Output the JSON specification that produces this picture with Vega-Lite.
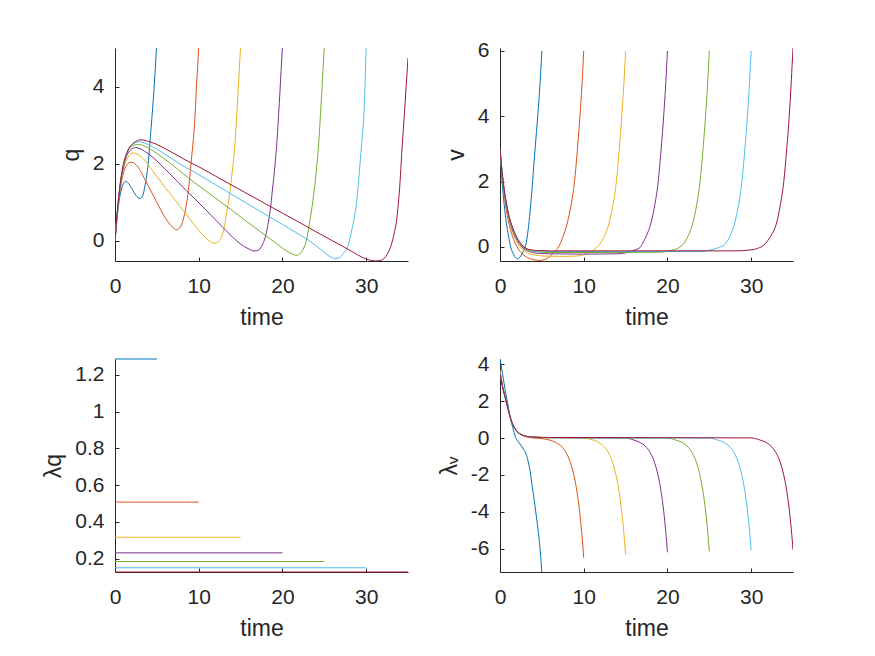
{
  "$schema": "https://vega.github.io/schema/vega-lite/v6.json",
  "background": "white",
  "padding": {"left": 42, "top": 39, "right": 5, "bottom": 5},
  "columns": 2,
  "spacing": {"row": 98, "column": 92},
  "bounds": "flush",
  "config": {
    "view": {"stroke": null},
    "font": "Liberation Sans",
    "axis": {
      "domainColor": "#262626", "tickColor": "#262626", "labelColor": "#262626", "titleColor": "#262626",
      "labelFont": "Liberation Sans", "titleFont": "Liberation Sans",
      "labelFontSize": 21, "titleFontSize": 23, "titleFontWeight": "normal",
      "grid": false, "tickSize": -4, "domainWidth": 1, "tickWidth": 1, "labelFlush": false
    },
    "axisX": {"labelPadding": 18, "titlePadding": 10},
    "axisY": {"labelPadding": 15, "titlePadding": 9},
    "line": {"strokeWidth": 1}
  },
  "datasets": {
    "q": [
      {"r":1,"t":0,"y":0},{"r":1,"t":0.25,"y":0.6},{"r":1,"t":0.5,"y":1.05},{"r":1,"t":0.75,"y":1.32},{"r":1,"t":1.0,"y":1.48},{"r":1,"t":1.25,"y":1.55},{"r":1,"t":1.5,"y":1.52},{"r":1,"t":2.0,"y":1.36},{"r":1,"t":2.5,"y":1.18},{"r":1,"t":3.0,"y":1.1},{"r":1,"t":3.3,"y":1.17},{"r":1,"t":3.6,"y":1.45},{"r":1,"t":3.96,"y":2.0},{"r":1,"t":4.3,"y":2.9},{"r":1,"t":4.5,"y":3.45},{"r":1,"t":4.68,"y":4.0},{"r":1,"t":4.85,"y":4.6},{"r":1,"t":5.0,"y":5.2},
      {"r":2,"t":0,"y":0},{"r":2,"t":0.25,"y":0.65},{"r":2,"t":0.5,"y":1.15},{"r":2,"t":0.75,"y":1.5},{"r":2,"t":1.0,"y":1.75},{"r":2,"t":1.4,"y":1.97},{"r":2,"t":1.9,"y":2.04},{"r":2,"t":2.5,"y":1.98},{"r":2,"t":3.0,"y":1.83},{"r":2,"t":3.68,"y":1.55},{"r":2,"t":4.28,"y":1.3},{"r":2,"t":5.0,"y":1.0},{"r":2,"t":5.5,"y":0.79},{"r":2,"t":6.0,"y":0.6},{"r":2,"t":6.68,"y":0.4},{"r":2,"t":7.0,"y":0.33},{"r":2,"t":7.35,"y":0.29},{"r":2,"t":7.8,"y":0.36},{"r":2,"t":8.1,"y":0.52},{"r":2,"t":8.36,"y":0.74},{"r":2,"t":8.68,"y":1.17},{"r":2,"t":8.92,"y":1.61},{"r":2,"t":9.08,"y":2.0},{"r":2,"t":9.28,"y":2.45},{"r":2,"t":9.48,"y":2.95},{"r":2,"t":9.6,"y":3.4},{"r":2,"t":9.72,"y":3.95},{"r":2,"t":9.87,"y":4.5},{"r":2,"t":10,"y":5.05},
      {"r":3,"t":0,"y":0},{"r":3,"t":0.25,"y":0.67},{"r":3,"t":0.5,"y":1.2},{"r":3,"t":0.75,"y":1.58},{"r":3,"t":1.0,"y":1.85},{"r":3,"t":1.5,"y":2.15},{"r":3,"t":2.2,"y":2.28},{"r":3,"t":3.0,"y":2.2},{"r":3,"t":3.5,"y":2.1},{"r":3,"t":4.28,"y":1.88},{"r":3,"t":5.0,"y":1.67},{"r":3,"t":6.0,"y":1.38},{"r":3,"t":7.48,"y":0.98},{"r":3,"t":8.5,"y":0.69},{"r":3,"t":9.48,"y":0.41},{"r":3,"t":10.28,"y":0.21},{"r":3,"t":11.0,"y":0.05},{"r":3,"t":11.5,"y":-0.03},{"r":3,"t":11.9,"y":-0.06},{"r":3,"t":12.4,"y":-0.01},{"r":3,"t":12.75,"y":0.12},{"r":3,"t":13.07,"y":0.37},{"r":3,"t":13.35,"y":0.75},{"r":3,"t":13.67,"y":1.17},{"r":3,"t":13.9,"y":1.6},{"r":3,"t":14.1,"y":1.98},{"r":3,"t":14.25,"y":2.3},{"r":3,"t":14.4,"y":2.75},{"r":3,"t":14.55,"y":3.3},{"r":3,"t":14.7,"y":3.85},{"r":3,"t":14.85,"y":4.45},{"r":3,"t":15,"y":5.05},
      {"r":4,"t":0,"y":0},{"r":4,"t":0.25,"y":0.68},{"r":4,"t":0.5,"y":1.22},{"r":4,"t":0.75,"y":1.63},{"r":4,"t":1.0,"y":1.92},{"r":4,"t":1.5,"y":2.25},{"r":4,"t":2.0,"y":2.38},{"r":4,"t":2.48,"y":2.42},{"r":4,"t":3.0,"y":2.39},{"r":4,"t":3.5,"y":2.33},{"r":4,"t":4.5,"y":2.17},{"r":4,"t":5.5,"y":1.97},{"r":4,"t":6.5,"y":1.75},{"r":4,"t":7.5,"y":1.53},{"r":4,"t":8.5,"y":1.31},{"r":4,"t":9.5,"y":1.1},{"r":4,"t":10.28,"y":0.93},{"r":4,"t":11.5,"y":0.66},{"r":4,"t":13.07,"y":0.31},{"r":4,"t":14.0,"y":0.11},{"r":4,"t":15.0,"y":-0.08},{"r":4,"t":16.0,"y":-0.21},{"r":4,"t":16.67,"y":-0.26},{"r":4,"t":17.2,"y":-0.23},{"r":4,"t":17.6,"y":-0.1},{"r":4,"t":18.07,"y":0.2},{"r":4,"t":18.4,"y":0.6},{"r":4,"t":18.67,"y":1.02},{"r":4,"t":18.8,"y":1.32},{"r":4,"t":18.95,"y":1.6},{"r":4,"t":19.1,"y":1.95},{"r":4,"t":19.25,"y":2.3},{"r":4,"t":19.4,"y":2.75},{"r":4,"t":19.55,"y":3.3},{"r":4,"t":19.7,"y":3.85},{"r":4,"t":19.85,"y":4.45},{"r":4,"t":20,"y":5.05},
      {"r":5,"t":0,"y":0},{"r":5,"t":0.25,"y":0.69},{"r":5,"t":0.5,"y":1.24},{"r":5,"t":0.75,"y":1.66},{"r":5,"t":1.0,"y":1.95},{"r":5,"t":1.5,"y":2.3},{"r":5,"t":2.0,"y":2.45},{"r":5,"t":2.76,"y":2.5},{"r":5,"t":3.5,"y":2.46},{"r":5,"t":4.5,"y":2.34},{"r":5,"t":5.5,"y":2.19},{"r":5,"t":6.5,"y":2.03},{"r":5,"t":7.5,"y":1.86},{"r":5,"t":8.5,"y":1.68},{"r":5,"t":9.5,"y":1.51},{"r":5,"t":10.28,"y":1.39},{"r":5,"t":12,"y":1.11},{"r":5,"t":14,"y":0.79},{"r":5,"t":16,"y":0.46},{"r":5,"t":18,"y":0.14},{"r":5,"t":19.5,"y":-0.1},{"r":5,"t":20.5,"y":-0.26},{"r":5,"t":21.2,"y":-0.34},{"r":5,"t":21.67,"y":-0.37},{"r":5,"t":22.2,"y":-0.31},{"r":5,"t":22.55,"y":-0.18},{"r":5,"t":22.87,"y":0.02},{"r":5,"t":23.2,"y":0.42},{"r":5,"t":23.45,"y":0.75},{"r":5,"t":23.65,"y":1.05},{"r":5,"t":23.8,"y":1.32},{"r":5,"t":23.95,"y":1.6},{"r":5,"t":24.1,"y":1.95},{"r":5,"t":24.25,"y":2.3},{"r":5,"t":24.4,"y":2.75},{"r":5,"t":24.55,"y":3.3},{"r":5,"t":24.7,"y":3.85},{"r":5,"t":24.85,"y":4.45},{"r":5,"t":25,"y":5.05},
      {"r":6,"t":0,"y":0},{"r":6,"t":0.25,"y":0.7},{"r":6,"t":0.5,"y":1.25},{"r":6,"t":0.75,"y":1.67},{"r":6,"t":1.0,"y":1.97},{"r":6,"t":1.5,"y":2.32},{"r":6,"t":2.0,"y":2.48},{"r":6,"t":2.92,"y":2.57},{"r":6,"t":3.5,"y":2.54},{"r":6,"t":4.5,"y":2.44},{"r":6,"t":5.5,"y":2.31},{"r":6,"t":6.5,"y":2.17},{"r":6,"t":7.5,"y":2.03},{"r":6,"t":8.5,"y":1.9},{"r":6,"t":9.5,"y":1.78},{"r":6,"t":10.28,"y":1.68},{"r":6,"t":12,"y":1.46},{"r":6,"t":14,"y":1.2},{"r":6,"t":16,"y":0.94},{"r":6,"t":18.27,"y":0.65},{"r":6,"t":20,"y":0.43},{"r":6,"t":22,"y":0.17},{"r":6,"t":23.07,"y":0.03},{"r":6,"t":24,"y":-0.12},{"r":6,"t":25,"y":-0.3},{"r":6,"t":25.7,"y":-0.41},{"r":6,"t":26.26,"y":-0.46},{"r":6,"t":26.8,"y":-0.43},{"r":6,"t":27.3,"y":-0.32},{"r":6,"t":27.87,"y":-0.1},{"r":6,"t":28.3,"y":0.3},{"r":6,"t":28.6,"y":0.62},{"r":6,"t":28.86,"y":1.0},{"r":6,"t":29.1,"y":1.55},{"r":6,"t":29.38,"y":2.3},{"r":6,"t":29.55,"y":2.75},{"r":6,"t":29.74,"y":3.3},{"r":6,"t":29.87,"y":4.1},{"r":6,"t":30,"y":5.05},
      {"r":7,"t":0,"y":0},{"r":7,"t":0.25,"y":0.7},{"r":7,"t":0.5,"y":1.25},{"r":7,"t":0.75,"y":1.68},{"r":7,"t":1.0,"y":1.98},{"r":7,"t":1.5,"y":2.33},{"r":7,"t":2.0,"y":2.5},{"r":7,"t":2.5,"y":2.58},{"r":7,"t":3.1,"y":2.62},{"r":7,"t":4,"y":2.58},{"r":7,"t":5,"y":2.5},{"r":7,"t":6,"y":2.39},{"r":7,"t":7,"y":2.27},{"r":7,"t":8,"y":2.15},{"r":7,"t":9,"y":2.03},{"r":7,"t":10.28,"y":1.89},{"r":7,"t":12,"y":1.68},{"r":7,"t":14,"y":1.44},{"r":7,"t":16,"y":1.2},{"r":7,"t":18,"y":0.96},{"r":7,"t":20,"y":0.72},{"r":7,"t":22.27,"y":0.45},{"r":7,"t":24,"y":0.24},{"r":7,"t":26,"y":0.0},{"r":7,"t":27.46,"y":-0.17},{"r":7,"t":28.5,"y":-0.3},{"r":7,"t":29.5,"y":-0.42},{"r":7,"t":30.3,"y":-0.49},{"r":7,"t":31.06,"y":-0.52},{"r":7,"t":31.8,"y":-0.5},{"r":7,"t":32.5,"y":-0.35},{"r":7,"t":33.0,"y":-0.1},{"r":7,"t":33.35,"y":0.2},{"r":7,"t":33.66,"y":0.57},{"r":7,"t":33.9,"y":1.1},{"r":7,"t":34.1,"y":1.7},{"r":7,"t":34.26,"y":2.3},{"r":7,"t":34.4,"y":2.75},{"r":7,"t":34.53,"y":3.17},{"r":7,"t":34.66,"y":3.6},{"r":7,"t":34.78,"y":4.0},{"r":7,"t":34.9,"y":4.4},{"r":7,"t":35,"y":4.74}
    ],
    "v": [
      {"r":1,"t":0,"y":3.0},{"r":1,"t":0.25,"y":2.0},{"r":1,"t":0.5,"y":1.3},{"r":1,"t":0.75,"y":0.75},{"r":1,"t":1.0,"y":0.35},{"r":1,"t":1.28,"y":0.0},{"r":1,"t":1.6,"y":-0.22},{"r":1,"t":2.07,"y":-0.36},{"r":1,"t":2.5,"y":-0.27},{"r":1,"t":2.8,"y":-0.12},{"r":1,"t":3.07,"y":0.05},{"r":1,"t":3.35,"y":0.5},{"r":1,"t":3.6,"y":1.1},{"r":1,"t":3.85,"y":1.85},{"r":1,"t":4.1,"y":2.7},{"r":1,"t":4.35,"y":3.5},{"r":1,"t":4.55,"y":4.15},{"r":1,"t":4.78,"y":5.0},{"r":1,"t":5.0,"y":6.0},
      {"r":2,"t":0,"y":3.0},{"r":2,"t":0.25,"y":2.2},{"r":2,"t":0.5,"y":1.6},{"r":2,"t":0.75,"y":1.15},{"r":2,"t":1.0,"y":0.8},{"r":2,"t":1.5,"y":0.32},{"r":2,"t":2.0,"y":0.02},{"r":2,"t":2.5,"y":-0.17},{"r":2,"t":3.0,"y":-0.28},{"r":2,"t":3.5,"y":-0.35},{"r":2,"t":4.0,"y":-0.39},{"r":2,"t":4.8,"y":-0.41},{"r":2,"t":5.5,"y":-0.37},{"r":2,"t":6.0,"y":-0.28},{"r":2,"t":6.5,"y":-0.15},{"r":2,"t":7.0,"y":0.0},{"r":2,"t":7.5,"y":0.3},{"r":2,"t":8.0,"y":0.7},{"r":2,"t":8.5,"y":1.3},{"r":2,"t":8.9,"y":2.0},{"r":2,"t":9.25,"y":3.0},{"r":2,"t":9.55,"y":4.0},{"r":2,"t":9.8,"y":5.0},{"r":2,"t":10,"y":6.0},
      {"r":3,"t":0,"y":3.0},{"r":3,"t":0.25,"y":2.25},{"r":3,"t":0.5,"y":1.68},{"r":3,"t":0.75,"y":1.25},{"r":3,"t":1.0,"y":0.92},{"r":3,"t":1.5,"y":0.45},{"r":3,"t":2.0,"y":0.16},{"r":3,"t":2.5,"y":-0.03},{"r":3,"t":3.0,"y":-0.14},{"r":3,"t":3.5,"y":-0.2},{"r":3,"t":4.5,"y":-0.26},{"r":3,"t":5.5,"y":-0.28},{"r":3,"t":7.5,"y":-0.29},{"r":3,"t":9.0,"y":-0.28},{"r":3,"t":10.0,"y":-0.24},{"r":3,"t":10.8,"y":-0.15},{"r":3,"t":11.6,"y":0.0},{"r":3,"t":12.0,"y":0.12},{"r":3,"t":12.5,"y":0.35},{"r":3,"t":13.0,"y":0.7},{"r":3,"t":13.5,"y":1.3},{"r":3,"t":13.9,"y":2.0},{"r":3,"t":14.25,"y":3.0},{"r":3,"t":14.55,"y":4.0},{"r":3,"t":14.8,"y":5.0},{"r":3,"t":15,"y":6.0},
      {"r":4,"t":0,"y":3.0},{"r":4,"t":0.25,"y":2.27},{"r":4,"t":0.5,"y":1.72},{"r":4,"t":0.75,"y":1.3},{"r":4,"t":1.0,"y":0.97},{"r":4,"t":1.5,"y":0.52},{"r":4,"t":2.0,"y":0.22},{"r":4,"t":2.5,"y":0.03},{"r":4,"t":3.0,"y":-0.08},{"r":4,"t":3.5,"y":-0.14},{"r":4,"t":4.5,"y":-0.19},{"r":4,"t":6,"y":-0.21},{"r":4,"t":10,"y":-0.22},{"r":4,"t":14,"y":-0.21},{"r":4,"t":15.2,"y":-0.17},{"r":4,"t":16,"y":-0.1},{"r":4,"t":16.8,"y":0.0},{"r":4,"t":17.0,"y":0.1},{"r":4,"t":17.5,"y":0.35},{"r":4,"t":18,"y":0.7},{"r":4,"t":18.5,"y":1.3},{"r":4,"t":18.9,"y":2.0},{"r":4,"t":19.25,"y":3.0},{"r":4,"t":19.55,"y":4.0},{"r":4,"t":19.8,"y":5.0},{"r":4,"t":20,"y":6.0},
      {"r":5,"t":0,"y":3.0},{"r":5,"t":0.25,"y":2.28},{"r":5,"t":0.5,"y":1.74},{"r":5,"t":0.75,"y":1.33},{"r":5,"t":1.0,"y":1.0},{"r":5,"t":1.5,"y":0.56},{"r":5,"t":2.0,"y":0.26},{"r":5,"t":2.5,"y":0.07},{"r":5,"t":3.0,"y":-0.05},{"r":5,"t":3.5,"y":-0.11},{"r":5,"t":4.5,"y":-0.15},{"r":5,"t":6,"y":-0.17},{"r":5,"t":12,"y":-0.17},{"r":5,"t":19,"y":-0.16},{"r":5,"t":20.5,"y":-0.1},{"r":5,"t":21.5,"y":0.0},{"r":5,"t":22,"y":0.12},{"r":5,"t":22.5,"y":0.35},{"r":5,"t":23,"y":0.7},{"r":5,"t":23.5,"y":1.3},{"r":5,"t":23.9,"y":2.0},{"r":5,"t":24.25,"y":3.0},{"r":5,"t":24.55,"y":4.0},{"r":5,"t":24.8,"y":5.0},{"r":5,"t":25,"y":6.0},
      {"r":6,"t":0,"y":3.0},{"r":6,"t":0.25,"y":2.29},{"r":6,"t":0.5,"y":1.75},{"r":6,"t":0.75,"y":1.35},{"r":6,"t":1.0,"y":1.02},{"r":6,"t":1.5,"y":0.58},{"r":6,"t":2.0,"y":0.28},{"r":6,"t":2.5,"y":0.09},{"r":6,"t":3.0,"y":-0.03},{"r":6,"t":3.5,"y":-0.09},{"r":6,"t":4.5,"y":-0.13},{"r":6,"t":6,"y":-0.14},{"r":6,"t":24,"y":-0.14},{"r":6,"t":25.3,"y":-0.08},{"r":6,"t":26.3,"y":0.0},{"r":6,"t":27,"y":0.12},{"r":6,"t":27.5,"y":0.35},{"r":6,"t":28,"y":0.7},{"r":6,"t":28.5,"y":1.3},{"r":6,"t":28.9,"y":2.0},{"r":6,"t":29.25,"y":3.0},{"r":6,"t":29.55,"y":4.0},{"r":6,"t":29.8,"y":5.0},{"r":6,"t":30,"y":6.0},
      {"r":7,"t":0,"y":3.0},{"r":7,"t":0.25,"y":2.3},{"r":7,"t":0.5,"y":1.76},{"r":7,"t":0.75,"y":1.36},{"r":7,"t":1.0,"y":1.03},{"r":7,"t":1.5,"y":0.6},{"r":7,"t":2.0,"y":0.3},{"r":7,"t":2.5,"y":0.1},{"r":7,"t":3.0,"y":-0.02},{"r":7,"t":3.5,"y":-0.08},{"r":7,"t":4.5,"y":-0.11},{"r":7,"t":6,"y":-0.12},{"r":7,"t":28,"y":-0.12},{"r":7,"t":30,"y":-0.09},{"r":7,"t":31,"y":-0.02},{"r":7,"t":31.5,"y":0.05},{"r":7,"t":32,"y":0.2},{"r":7,"t":32.5,"y":0.4},{"r":7,"t":33,"y":0.7},{"r":7,"t":33.5,"y":1.3},{"r":7,"t":33.9,"y":2.0},{"r":7,"t":34.25,"y":3.0},{"r":7,"t":34.55,"y":4.0},{"r":7,"t":34.8,"y":5.1},{"r":7,"t":35,"y":6.09}
    ],
    "lq": [
      {"r":1,"t":0,"y":1.286},{"r":1,"t":5,"y":1.286},
      {"r":2,"t":0,"y":0.508},{"r":2,"t":10,"y":0.508},
      {"r":3,"t":0,"y":0.317},{"r":3,"t":15,"y":0.317},
      {"r":4,"t":0,"y":0.232},{"r":4,"t":20,"y":0.232},
      {"r":5,"t":0,"y":0.185},{"r":5,"t":25,"y":0.185},
      {"r":6,"t":0,"y":0.151},{"r":6,"t":30,"y":0.151},
      {"r":7,"t":0,"y":0.128},{"r":7,"t":35,"y":0.128}
    ],
    "lv": [
      {"r":1,"t":0,"y":4.29},{"r":1,"t":0.3,"y":3.5},{"r":1,"t":0.68,"y":2.44},{"r":1,"t":1.0,"y":1.68},{"r":1,"t":1.28,"y":1.0},{"r":1,"t":1.6,"y":0.45},{"r":1,"t":1.88,"y":0.02},{"r":1,"t":2.2,"y":-0.2},{"r":1,"t":2.5,"y":-0.4},{"r":1,"t":2.8,"y":-0.6},{"r":1,"t":3.07,"y":-0.81},{"r":1,"t":3.27,"y":-1.1},{"r":1,"t":3.6,"y":-1.8},{"r":1,"t":3.87,"y":-2.7},{"r":1,"t":4.1,"y":-3.4},{"r":1,"t":4.27,"y":-4.0},{"r":1,"t":4.55,"y":-5.0},{"r":1,"t":4.78,"y":-6.0},{"r":1,"t":5.0,"y":-7.27},
      {"r":2,"t":0,"y":3.7},{"r":2,"t":0.3,"y":2.85},{"r":2,"t":0.68,"y":2.12},{"r":2,"t":1.0,"y":1.5},{"r":2,"t":1.4,"y":0.88},{"r":2,"t":1.88,"y":0.45},{"r":2,"t":2.5,"y":0.2},{"r":2,"t":3.07,"y":0.08},{"r":2,"t":4.0,"y":0.0},{"r":2,"t":5.0,"y":-0.03},{"r":2,"t":6.0,"y":-0.12},{"r":2,"t":6.5,"y":-0.2},{"r":2,"t":7.0,"y":-0.33},{"r":2,"t":7.5,"y":-0.53},{"r":2,"t":8.0,"y":-0.88},{"r":2,"t":8.5,"y":-1.45},{"r":2,"t":8.8,"y":-1.96},{"r":2,"t":9.0,"y":-2.39},{"r":2,"t":9.2,"y":-2.92},{"r":2,"t":9.4,"y":-3.57},{"r":2,"t":9.56,"y":-4.19},{"r":2,"t":9.7,"y":-4.82},{"r":2,"t":9.8,"y":-5.32},{"r":2,"t":9.9,"y":-5.88},{"r":2,"t":10,"y":-6.5},
      {"r":3,"t":0,"y":3.6},{"r":3,"t":0.3,"y":2.82},{"r":3,"t":0.68,"y":2.1},{"r":3,"t":1.0,"y":1.5},{"r":3,"t":1.4,"y":0.88},{"r":3,"t":1.88,"y":0.45},{"r":3,"t":2.5,"y":0.2},{"r":3,"t":3.07,"y":0.1},{"r":3,"t":4.0,"y":0.05},{"r":3,"t":6,"y":0.02},{"r":3,"t":10,"y":0.0},{"r":3,"t":11,"y":-0.09},{"r":3,"t":11.5,"y":-0.17},{"r":3,"t":12,"y":-0.3},{"r":3,"t":12.5,"y":-0.5},{"r":3,"t":13,"y":-0.83},{"r":3,"t":13.5,"y":-1.39},{"r":3,"t":13.8,"y":-1.9},{"r":3,"t":14,"y":-2.32},{"r":3,"t":14.2,"y":-2.83},{"r":3,"t":14.4,"y":-3.47},{"r":3,"t":14.56,"y":-4.07},{"r":3,"t":14.7,"y":-4.68},{"r":3,"t":14.8,"y":-5.17},{"r":3,"t":14.9,"y":-5.72},{"r":3,"t":15,"y":-6.33},
      {"r":4,"t":0,"y":3.55},{"r":4,"t":0.3,"y":2.8},{"r":4,"t":0.68,"y":2.1},{"r":4,"t":1.0,"y":1.5},{"r":4,"t":1.4,"y":0.88},{"r":4,"t":1.88,"y":0.45},{"r":4,"t":2.5,"y":0.2},{"r":4,"t":3.07,"y":0.1},{"r":4,"t":4.0,"y":0.05},{"r":4,"t":6,"y":0.02},{"r":4,"t":15,"y":0.0},{"r":4,"t":16,"y":-0.11},{"r":4,"t":16.5,"y":-0.19},{"r":4,"t":17,"y":-0.31},{"r":4,"t":17.5,"y":-0.51},{"r":4,"t":18,"y":-0.84},{"r":4,"t":18.5,"y":-1.38},{"r":4,"t":18.8,"y":-1.87},{"r":4,"t":19,"y":-2.28},{"r":4,"t":19.2,"y":-2.78},{"r":4,"t":19.4,"y":-3.4},{"r":4,"t":19.56,"y":-3.99},{"r":4,"t":19.7,"y":-4.59},{"r":4,"t":19.8,"y":-5.08},{"r":4,"t":19.9,"y":-5.61},{"r":4,"t":20,"y":-6.2},
      {"r":5,"t":0,"y":3.55},{"r":5,"t":0.3,"y":2.8},{"r":5,"t":0.68,"y":2.1},{"r":5,"t":1.0,"y":1.5},{"r":5,"t":1.4,"y":0.88},{"r":5,"t":1.88,"y":0.45},{"r":5,"t":2.5,"y":0.2},{"r":5,"t":3.07,"y":0.1},{"r":5,"t":4.0,"y":0.05},{"r":5,"t":6,"y":0.02},{"r":5,"t":20,"y":0.0},{"r":5,"t":21,"y":-0.11},{"r":5,"t":21.5,"y":-0.18},{"r":5,"t":22,"y":-0.3},{"r":5,"t":22.5,"y":-0.5},{"r":5,"t":23,"y":-0.83},{"r":5,"t":23.5,"y":-1.37},{"r":5,"t":23.8,"y":-1.85},{"r":5,"t":24,"y":-2.26},{"r":5,"t":24.2,"y":-2.76},{"r":5,"t":24.4,"y":-3.37},{"r":5,"t":24.56,"y":-3.96},{"r":5,"t":24.7,"y":-4.55},{"r":5,"t":24.8,"y":-5.04},{"r":5,"t":24.9,"y":-5.57},{"r":5,"t":25,"y":-6.15},
      {"r":6,"t":0,"y":3.55},{"r":6,"t":0.3,"y":2.8},{"r":6,"t":0.68,"y":2.1},{"r":6,"t":1.0,"y":1.5},{"r":6,"t":1.4,"y":0.88},{"r":6,"t":1.88,"y":0.45},{"r":6,"t":2.5,"y":0.2},{"r":6,"t":3.07,"y":0.1},{"r":6,"t":4.0,"y":0.05},{"r":6,"t":6,"y":0.02},{"r":6,"t":25,"y":0.0},{"r":6,"t":26,"y":-0.11},{"r":6,"t":26.5,"y":-0.18},{"r":6,"t":27,"y":-0.3},{"r":6,"t":27.5,"y":-0.5},{"r":6,"t":28,"y":-0.82},{"r":6,"t":28.5,"y":-1.36},{"r":6,"t":28.8,"y":-1.84},{"r":6,"t":29,"y":-2.24},{"r":6,"t":29.2,"y":-2.74},{"r":6,"t":29.4,"y":-3.35},{"r":6,"t":29.56,"y":-3.93},{"r":6,"t":29.7,"y":-4.52},{"r":6,"t":29.8,"y":-5.0},{"r":6,"t":29.9,"y":-5.52},{"r":6,"t":30,"y":-6.1},
      {"r":7,"t":0,"y":3.5},{"r":7,"t":0.3,"y":2.78},{"r":7,"t":0.68,"y":2.1},{"r":7,"t":1.0,"y":1.5},{"r":7,"t":1.4,"y":0.88},{"r":7,"t":1.88,"y":0.45},{"r":7,"t":2.5,"y":0.2},{"r":7,"t":3.07,"y":0.1},{"r":7,"t":4.0,"y":0.05},{"r":7,"t":6,"y":0.03},{"r":7,"t":30,"y":0.01},{"r":7,"t":31,"y":-0.1},{"r":7,"t":31.5,"y":-0.18},{"r":7,"t":32,"y":-0.3},{"r":7,"t":32.5,"y":-0.5},{"r":7,"t":33,"y":-0.82},{"r":7,"t":33.5,"y":-1.35},{"r":7,"t":33.8,"y":-1.83},{"r":7,"t":34,"y":-2.23},{"r":7,"t":34.2,"y":-2.72},{"r":7,"t":34.4,"y":-3.33},{"r":7,"t":34.56,"y":-3.91},{"r":7,"t":34.7,"y":-4.5},{"r":7,"t":34.8,"y":-4.97},{"r":7,"t":34.9,"y":-5.49},{"r":7,"t":35,"y":-6.07}
    ]
  },
  "concat": [
    {
      "width": 293, "height": 213,
      "data": {"name": "q"},
      "mark": {"type": "line", "interpolate": "monotone", "clip": true},
      "encoding": {
        "x": {"field": "t", "type": "quantitative", "scale": {"domain": [0, 35], "nice": false, "zero": false}, "axis": {"values": [0, 10, 20, 30], "title": "time"}},
        "y": {"field": "y", "type": "quantitative", "scale": {"domain": [-0.52, 5], "nice": false, "zero": false}, "axis": {"values": [0, 2, 4], "title": "q"}},
        "color": {"field": "r", "type": "nominal", "legend": null, "scale": {"domain": [1, 2, 3, 4, 5, 6, 7], "range": ["#0072BD", "#D95319", "#EDB120", "#7E2F8E", "#77AC30", "#4DBEEE", "#A2142F"]}}
      }
    },
    {
      "width": 293, "height": 213,
      "data": {"name": "v"},
      "mark": {"type": "line", "interpolate": "monotone", "clip": true},
      "encoding": {
        "x": {"field": "t", "type": "quantitative", "scale": {"domain": [0, 35], "nice": false, "zero": false}, "axis": {"values": [0, 10, 20, 30], "title": "time"}},
        "y": {"field": "y", "type": "quantitative", "scale": {"domain": [-0.43, 6.09], "nice": false, "zero": false}, "axis": {"values": [0, 2, 4, 6], "title": "v"}},
        "color": {"field": "r", "type": "nominal", "legend": null, "scale": {"domain": [1, 2, 3, 4, 5, 6, 7], "range": ["#0072BD", "#D95319", "#EDB120", "#7E2F8E", "#77AC30", "#4DBEEE", "#A2142F"]}}
      }
    },
    {
      "width": 293, "height": 213,
      "data": {"name": "lq"},
      "mark": {"type": "line", "clip": false},
      "encoding": {
        "x": {"field": "t", "type": "quantitative", "scale": {"domain": [0, 35], "nice": false, "zero": false}, "axis": {"values": [0, 10, 20, 30], "title": "time"}},
        "y": {"field": "y", "type": "quantitative", "scale": {"domain": [0.128, 1.286], "nice": false, "zero": false}, "axis": {"values": [0.2, 0.4, 0.6, 0.8, 1, 1.2], "format": "~g", "title": "λq"}},
        "color": {"field": "r", "type": "nominal", "legend": null, "scale": {"domain": [1, 2, 3, 4, 5, 6, 7], "range": ["#0072BD", "#D95319", "#EDB120", "#7E2F8E", "#77AC30", "#4DBEEE", "#A2142F"]}}
      }
    },
    {
      "width": 293, "height": 213,
      "data": {"name": "lv"},
      "mark": {"type": "line", "interpolate": "monotone", "clip": true},
      "encoding": {
        "x": {"field": "t", "type": "quantitative", "scale": {"domain": [0, 35], "nice": false, "zero": false}, "axis": {"values": [0, 10, 20, 30], "title": "time"}},
        "y": {"field": "y", "type": "quantitative", "scale": {"domain": [-7.27, 4.29], "nice": false, "zero": false}, "axis": {"values": [-6, -4, -2, 0, 2, 4], "labelExpr": "toString(datum.value)", "title": "λᵥ"}},
        "color": {"field": "r", "type": "nominal", "legend": null, "scale": {"domain": [1, 2, 3, 4, 5, 6, 7], "range": ["#0072BD", "#D95319", "#EDB120", "#7E2F8E", "#77AC30", "#4DBEEE", "#A2142F"]}}
      }
    }
  ]
}
